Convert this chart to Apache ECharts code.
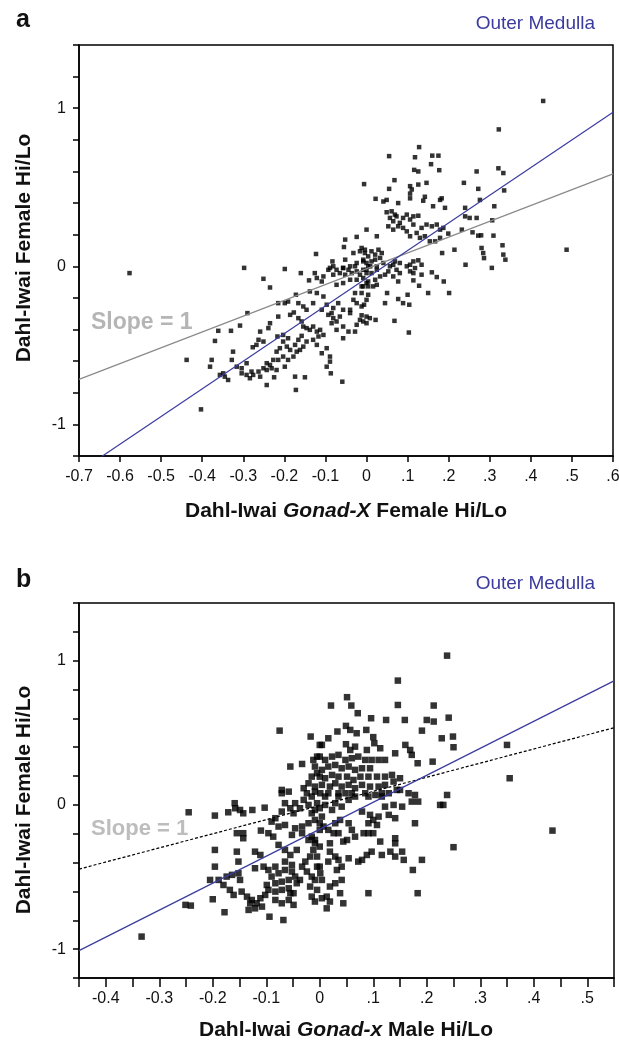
<!DOCTYPE html>
<html>
<head>
<meta charset="utf-8">
<script src="https://cdn.jsdelivr.net/npm/echarts@6/dist/echarts.min.js"></script>
<style>
html,body{margin:0;padding:0;background:#fff;}
#chart{width:619px;height:1044px;}
</style>
</head>
<body>
<div id="chart"></div>
<script>
// ---------- Panel a: Gonad-X Female (x) vs Female (y) ----------
var pointsA = [
[0.430,1.046],[0.322,0.866],[0.128,0.754],[0.055,0.697],[0.118,0.69],[0.16,0.70],[0.175,0.70],[0.157,0.646],[0.116,0.61],[0.126,0.60],[0.177,0.608],[0.268,0.60],[0.321,0.62],[0.333,0.59],[-0.006,0.52],[0.068,0.545],[0.055,0.49],[0.106,0.507],[0.11,0.486],[0.126,0.517],[0.146,0.528],[0.237,0.528],[0.272,0.49],[0.335,0.48],[0.022,0.427],[0.041,0.41],[0.049,0.42],[0.077,0.40],[0.106,0.46],[0.106,0.43],[0.142,0.44],[0.138,0.415],[0.179,0.42],[0.183,0.43],[0.162,0.38],[0.191,0.37],[0.276,0.42],[0.311,0.38],[0.24,0.37],
[0.049,0.342],[0.061,0.348],[0.069,0.327],[0.057,0.306],[0.065,0.285],[0.073,0.316],[0.081,0.275],[0.089,0.306],[0.098,0.327],[0.106,0.296],[0.114,0.316],[0.126,0.32],[0.053,0.253],[0.065,0.232],[0.077,0.253],[0.089,0.243],[0.098,0.221],[0.106,0.19],[0.114,0.264],[0.122,0.211],[0.134,0.243],[0.146,0.264],[0.159,0.253],[0.171,0.264],[0.179,0.232],[0.187,0.243],[0.199,0.207],[0.13,0.18],[0.142,0.19],[0.154,0.158],[0.167,0.158],[0.179,0.18],
[0.0,0.232],[0.025,0.19],[0.232,0.232],[0.258,0.215],[0.272,0.194],[0.279,0.196],[0.306,0.291],[0.309,0.194],[0.24,0.316],[0.251,0.306],[0.268,0.306],[0.331,0.133],[0.333,0.074],[0.338,0.042],[0.28,0.116],[0.284,0.084],[0.286,0.052],[0.214,0.105],[0.184,0.084],[0.487,0.105],[0.241,0.01],[0.305,-0.01],[0.114,0.031],[0.126,0.038],[0.134,0.01],[0.106,0.01],[0.081,0.021],[0.065,0.01],[0.069,0.031],
[-0.012,0.116],[-0.004,0.084],[0.004,0.063],[0.012,0.095],[0.021,0.074],[0.029,0.105],[0.037,0.084],[-0.008,0.042],[0.0,0.021],[0.012,0.031],[0.021,0.042],[0.033,0.053],[0.041,0.021],[0.009,0.0],[0.025,0.0],
[-0.052,0.169],[-0.024,0.186],[-0.055,0.122],[-0.123,0.078],[-0.083,0.031],[-0.052,0.042],[-0.032,0.084],[-0.016,0.095],[-0.004,0.105],[-0.024,0.021],[-0.008,0.031],[-0.04,0],[-0.057,-0.01],[-0.089,-0.01],[-0.298,-0.01],[-0.199,-0.017],
[-0.251,-0.079],[-0.235,-0.134],[-0.16,-0.043],[-0.14,-0.089],[-0.126,-0.043],[-0.121,-0.074],[-0.109,-0.096],[-0.105,-0.064],[-0.093,-0.022],[-0.081,0.0],[-0.081,-0.053],[-0.073,-0.022],[-0.065,-0.043],[-0.057,-0.011],[-0.052,-0.053],[-0.044,-0.022],[-0.036,-0.043],[-0.028,0.0],[-0.024,-0.032],[-0.016,-0.053],[-0.008,-0.022],[0.0,-0.043],[0.004,0.0],[-0.073,-0.117],[-0.057,-0.106],[-0.04,-0.085],[-0.024,-0.085],[-0.012,-0.127],[0.0,-0.106],[-0.138,-0.159],[-0.121,-0.169],[-0.105,-0.191],[-0.172,-0.18],[-0.166,-0.233],[-0.13,-0.233],[-0.146,-0.275],[-0.154,-0.254],[-0.109,-0.275],[-0.097,-0.243],[-0.093,-0.307],[-0.081,-0.264],[-0.069,-0.233],[-0.057,-0.275],[-0.04,-0.275],[-0.032,-0.212],[-0.024,-0.233],[-0.012,-0.254],[0.0,-0.212],[-0.012,-0.169],[-0.028,-0.169],
[-0.215,-0.233],[-0.199,-0.233],[-0.191,-0.223],[-0.177,-0.292],[-0.186,-0.307],[-0.166,-0.328],[-0.158,-0.349],[-0.215,-0.318],[-0.29,-0.296],[-0.308,-0.375],[-0.235,-0.36],[-0.239,-0.391],[-0.361,-0.408],[-0.33,-0.408],[-0.369,-0.472],[-0.259,-0.413],[-0.263,-0.465],[-0.251,-0.476],[-0.268,-0.497],[-0.277,-0.512],
[-0.217,-0.444],[-0.203,-0.434],[-0.191,-0.455],[-0.203,-0.476],[-0.211,-0.518],[-0.194,-0.508],[-0.186,-0.529],[-0.174,-0.497],[-0.166,-0.465],[-0.158,-0.44],[-0.154,-0.381],[-0.146,-0.391],[-0.138,-0.402],[-0.13,-0.381],[-0.121,-0.413],[-0.113,-0.402],[-0.105,-0.434],[-0.117,-0.444],[-0.13,-0.465],[-0.146,-0.476],[-0.154,-0.508],[-0.162,-0.529],[-0.17,-0.54],[-0.178,-0.571],[-0.191,-0.592],[-0.203,-0.571],[-0.219,-0.54],[-0.215,-0.592],[-0.199,-0.635],[-0.227,-0.592],[-0.235,-0.624],[-0.243,-0.613],[-0.251,-0.645],[-0.263,-0.666],[-0.276,-0.687],[-0.284,-0.708],[-0.259,-0.698],[-0.243,-0.656],[-0.231,-0.645],[-0.219,-0.656],
[-0.316,-0.635],[-0.304,-0.645],[-0.292,-0.613],[-0.328,-0.592],[-0.349,-0.677],[-0.357,-0.687],[-0.345,-0.698],[-0.337,-0.719],[-0.377,-0.592],[-0.381,-0.635],[-0.438,-0.592],[-0.304,-0.677],[-0.292,-0.687],[-0.28,-0.666],[-0.243,-0.751],[-0.225,-0.702],[-0.172,-0.782],[-0.15,-0.702],[-0.174,-0.698],[-0.403,-0.905],[-0.089,-0.603],[-0.097,-0.635],[-0.087,-0.677],[-0.059,-0.73],[-0.121,-0.497],[-0.109,-0.55],[-0.097,-0.518],[-0.089,-0.571],
[-0.085,-0.296],[-0.081,-0.328],[-0.085,-0.36],[-0.073,-0.349],[-0.065,-0.318],[-0.057,-0.381],[-0.044,-0.413],[-0.028,-0.413],[-0.024,-0.37],[-0.016,-0.339],[-0.008,-0.349],[0.0,-0.318],[-0.04,-0.296],[-0.073,-0.402],[-0.057,-0.455],
[-0.008,-0.127],[0.004,-0.18],[-0.006,-0.243],[0.045,-0.233],[0.05,-0.169],[0.077,-0.207],[0.089,-0.233],[0.104,-0.243],[0.1,-0.18],[-0.012,-0.31],[0.0,-0.36],[0.008,-0.328],[0.022,-0.339],[0.068,-0.345],[0.103,-0.419],[0.15,-0.169],[0.201,-0.169],[0.128,-0.123],[0.114,-0.089],[0.134,-0.053],[0.159,-0.038],[0.171,-0.068],[0.188,-0.096],
[0.0,-0.022],[0.012,-0.043],[0.025,-0.022],[0.033,-0.064],[0.021,-0.085],[0.004,-0.096],[-0.008,-0.074],[0.045,-0.053],[0.053,-0.032],[0.065,-0.064],[0.077,-0.096],[0.081,-0.043],[0.073,-0.022],[0.098,0.0],[0.106,-0.032],[0.114,-0.043],[0.118,-0.011],[0.057,0.0],[0.025,-0.117],[0.004,-0.127],[0.016,-0.127],
[-0.577,-0.043],[-0.325,-0.54]
];
// fitted line (blue) and slope = 1 line (grey), endpoints
var blueLineA = [[-0.7, -1.30], [0.6, 0.975]];
var slopeLineA = [[-0.7, -0.715], [0.6, 0.585]];
var xTicksA = [-0.7, 0.6, 0.1];   // min, max, step
var yTicks = [-1.2, 1.4, 0.2];    // min, max, step (labels at -1, 0, 1)

// ---------- Panel b: Gonad-x Male (x) vs Female (y) ----------
var pointsB = [
[-0.075,0.515],[-0.017,0.474],[0.0,0.416],[-0.055,0.266],[-0.033,0.284],[-0.012,0.312],[-0.005,0.335],[-0.015,0.196],[-0.005,0.22],[-0.071,0.104],[-0.058,0.092],[-0.03,0.116],[-0.021,0.15],[-0.009,0.092],
[0.238,1.035],[0.146,0.862],[0.051,0.747],[0.021,0.689],[0.059,0.689],[0.146,0.693],[0.213,0.689],[0.071,0.636],[0.096,0.601],[0.124,0.589],[0.159,0.589],[0.2,0.589],[0.213,0.578],[0.241,0.605],[0.191,0.515],[0.228,0.462],[0.249,0.474],[0.25,0.4],[0.049,0.548],[0.057,0.52],[0.069,0.497],[0.087,0.52],[0.033,0.509],[0.016,0.462],[0.004,0.416],[0.1,0.47],[0.102,0.428],[0.049,0.421],[0.057,0.381],[0.066,0.404],[0.088,0.381],[0.113,0.393],[0.141,0.358],[0.16,0.416],[0.169,0.381],[0.172,0.347],[0.183,0.289],[0.211,0.3],
[0.0,0.335],[0.01,0.312],[0.023,0.335],[0.035,0.347],[0.048,0.312],[0.06,0.324],[0.072,0.335],[0.085,0.312],[0.097,0.312],[0.11,0.312],[0.122,0.312],[-0.009,0.266],[0.004,0.243],[0.016,0.266],[0.029,0.277],[0.041,0.254],[0.054,0.266],[0.066,0.243],[0.079,0.254],[0.094,0.254],[0.0,0.196],[0.01,0.185],[0.023,0.208],[0.035,0.196],[0.051,0.196],[0.063,0.173],[0.076,0.196],[0.091,0.196],[0.107,0.196],[0.122,0.196],[0.135,0.208],[-0.009,0.127],[0.004,0.139],[0.019,0.127],[0.029,0.15],[0.041,0.127],[0.054,0.139],[0.066,0.116],[0.079,0.139],[0.094,0.127],[0.11,0.127],[0.122,0.139],[0.138,0.162],[0.15,0.185],[0.001,0.081],[0.016,0.081],[0.035,0.081],[0.06,0.081],[0.085,0.081],[0.116,0.081],[0.144,0.104],
[-0.245,-0.051],[-0.196,-0.074],[-0.171,-0.051],[-0.159,0.012],[-0.158,-0.023],[-0.149,-0.035],[-0.143,-0.058],[-0.126,-0.035],[-0.103,-0.019],[-0.071,0.081],[-0.065,0.012],[-0.055,-0.023],[-0.071,-0.046],[-0.083,-0.092],[-0.09,-0.116],[-0.077,-0.15],[-0.096,-0.196],[-0.087,-0.22],[-0.065,-0.139],[-0.046,0.012],[-0.049,-0.058],[-0.037,-0.023],[-0.03,0.035],[-0.024,0.081],[-0.021,0.0],[-0.015,-0.058],[-0.009,-0.104],[-0.021,-0.127],[-0.033,-0.15],[-0.046,-0.162],[-0.033,-0.196],[-0.052,-0.208],[-0.155,-0.196],[-0.143,-0.196],[-0.143,-0.231],[-0.11,-0.178],[-0.196,-0.312],[-0.155,-0.324],[-0.152,-0.393],[-0.196,-0.428],[-0.205,-0.52],[-0.189,-0.52],[-0.174,-0.497],[-0.164,-0.485],[-0.152,-0.474],[-0.149,-0.52],
[-0.121,-0.324],[-0.111,-0.347],[-0.121,-0.439],[-0.105,-0.428],[-0.096,-0.451],[-0.083,-0.428],[-0.09,-0.497],[-0.077,-0.474],[-0.065,-0.451],[-0.052,-0.462],[-0.046,-0.497],[-0.058,-0.52],[-0.071,-0.532],[-0.083,-0.543],[-0.099,-0.555],[-0.096,-0.589],[-0.083,-0.601],[-0.071,-0.589],[-0.058,-0.578],[-0.049,-0.612],[-0.043,-0.543],[-0.037,-0.52],[-0.033,-0.428],[-0.027,-0.393],[-0.018,-0.358],[-0.012,-0.312],[-0.009,-0.266],[-0.015,-0.22],[-0.021,-0.243],[-0.043,-0.312],[-0.055,-0.347],[-0.065,-0.312],[-0.077,-0.277],[-0.065,-0.393],[-0.052,-0.416],[-0.024,-0.462],[-0.015,-0.497],[-0.005,-0.428],[-0.009,-0.52],[-0.018,-0.566],
[-0.18,-0.555],[-0.168,-0.589],[-0.161,-0.624],[-0.146,-0.601],[-0.136,-0.636],[-0.127,-0.659],[-0.118,-0.682],[-0.108,-0.705],[-0.121,-0.717],[-0.13,-0.682],[-0.111,-0.647],[-0.102,-0.624],[-0.2,-0.654],[-0.241,-0.698],[-0.178,-0.744],[-0.133,-0.728],[-0.094,-0.775],[-0.068,-0.798],[-0.083,-0.659],[-0.071,-0.682],[-0.058,-0.659],[-0.049,-0.693],[-0.055,-0.612],[-0.015,-0.636],[-0.005,-0.589],[-0.009,-0.67],[-0.015,0.058],[-0.005,0.012],[-0.009,-0.035],[0.0,-0.127],[0.0,-0.173],
[0.238,0.069],[0.225,0.0],[0.231,0.0],[0.178,-0.127],[0.25,-0.293],[0.191,-0.381],[0.174,-0.451],[0.183,-0.612],[0.091,-0.612],[0.15,0.104],[0.166,0.081],[0.178,0.069],[0.184,0.023],[0.172,0.023],[0.122,-0.012],[0.138,0.0],[0.154,-0.012],[0.129,-0.069],[0.141,-0.092],
[0.079,-0.046],[0.094,-0.069],[0.1,-0.104],[0.11,-0.081],[0.091,-0.127],[0.107,-0.139],[0.082,-0.196],[0.091,-0.196],[0.1,-0.196],[0.113,-0.254],[0.141,-0.231],[0.141,-0.266],[0.132,-0.324],[0.154,-0.324],[0.141,-0.358],[0.157,-0.381],[0.116,-0.347],[0.097,-0.324],[0.088,-0.347],[0.079,-0.381],[0.072,-0.393],[0.054,-0.37],[0.06,-0.173],[0.066,-0.22],[0.051,-0.243],[0.044,-0.254],[0.035,-0.196],[0.026,-0.196],[0.029,-0.127],[0.038,-0.104],[0.054,-0.127],[0.019,-0.266],[0.019,-0.324],[0.016,-0.393],[0.029,-0.358],[0.035,-0.381],[0.041,-0.428],[0.032,-0.451],[0.041,-0.52],[0.029,-0.543],[0.019,-0.566],[0.013,-0.636],[0.019,-0.67],[0.004,-0.647],[0.013,-0.717],[0.038,-0.612],[0.044,-0.682],[0.004,-0.52],[0.001,-0.474],[0.0,-0.428],[-0.005,-0.358],[0.0,-0.289],[-0.009,-0.243],[0.007,-0.15],[0.016,-0.173],[0.004,-0.081],[0.023,-0.035],[0.041,-0.012],[0.054,0.035],[0.066,0.058],
[0.01,0.058],[0.035,0.058],[0.048,0.081],[0.029,0.012],[0.01,0.0],[0.0,-0.023],[0.091,0.058],[0.104,0.069],[0.116,0.058],[0.129,0.081],
[0.35,0.416],[0.355,0.185],[0.435,-0.178],[-0.333,-0.913],[-0.251,-0.693]
];
var blueLineB = [[-0.45, -1.01], [0.55, 0.86]];
var slopeLineB = [[-0.45, -0.445], [0.55, 0.535]];
var xTicksB = [-0.45, 0.55, 0.05];

// ---------- texts ----------
var panelLetters = ['a', 'b'];
var regionLabel = 'Outer Medulla';
var yTitle = 'Dahl-Iwai Female Hi/Lo';
var xTitleA = ['Dahl-Iwai ', 'Gonad-X', ' Female Hi/Lo'];
var xTitleB = ['Dahl-Iwai ', 'Gonad-x', ' Male Hi/Lo'];
var slopeText = 'Slope = 1';

var FONT = "'Liberation Sans', Arial, Helvetica, sans-serif";
var BLUE = '#3b3b9f';

function xFmt(v) {
  var r = Math.round(v * 100) / 100;
  if (Math.abs(r * 10 - Math.round(r * 10)) > 1e-6) return '';
  if (Math.abs(r) < 1e-9) return '0';
  var s = r.toFixed(1);
  if (r > 0) s = s.replace(/^0/, '');
  return s;
}
function yFmt(v) {
  if (Math.abs(v - Math.round(v)) < 1e-6) { var n = Math.round(v); return n === 0 ? '0' : String(n); }
  return '';
}
function xAxisCfg(gi, t, tickLen, margin) {
  return {
    type: 'value', gridIndex: gi, min: t[0], max: t[1], interval: t[2],
    axisLine: { show: true, onZero: false, lineStyle: { color: '#000', width: 1.5 } },
    axisTick: { show: true, length: tickLen, lineStyle: { color: '#000', width: 1.5 } },
    axisLabel: { formatter: xFmt, interval: 0, showMinLabel: true, showMaxLabel: true, hideOverlap: false,
      fontSize: 16, fontFamily: FONT, color: '#111', margin: margin },
    splitLine: { show: false }
  };
}
function yAxisCfg(gi) {
  return {
    type: 'value', gridIndex: gi, min: yTicks[0], max: yTicks[1], interval: yTicks[2],
    axisLine: { show: true, onZero: false, lineStyle: { color: '#000', width: 1.5 } },
    axisTick: { show: true, length: 6, lineStyle: { color: '#000', width: 1.5 } },
    axisLabel: { formatter: yFmt, showMinLabel: true, showMaxLabel: true, hideOverlap: false,
      fontSize: 16, fontFamily: FONT, color: '#111', margin: 13 },
    splitLine: { show: false }
  };
}
function scatter(i, data, size) {
  return { type: 'scatter', xAxisIndex: i, yAxisIndex: i, data: data, symbol: 'rect', symbolSize: size,
    itemStyle: { color: '#000' }, silent: true, z: 2 };
}
function line(i, data, color, type) {
  return { type: 'line', xAxisIndex: i, yAxisIndex: i, data: data, showSymbol: false, symbol: 'none',
    clip: true, silent: true, z: 3, lineStyle: { color: color, width: 1.2, type: type || 'solid' } };
}
function txt(x, y, text, font, fill, align, rot) {
  return { type: 'text', x: x, y: y, rotation: rot || 0, silent: true,
    style: { text: text, font: font, fill: fill, align: align || 'center', verticalAlign: 'middle' } };
}
function richTitle(x, y, parts) {
  return { type: 'text', x: x, y: y, silent: true,
    style: { text: '{b|' + parts[0] + '}{i|' + parts[1] + '}{b|' + parts[2] + '}',
      align: 'center', verticalAlign: 'middle',
      rich: { b: { font: 'bold 21px ' + FONT, fill: '#111' }, i: { font: 'italic bold 21px ' + FONT, fill: '#111' } } } };
}

var chart = echarts.init(document.getElementById('chart'), null, { renderer: 'canvas' });
chart.setOption({
  backgroundColor: '#fff',
  animation: false,
  grid: [
    { left: 79, top: 45, width: 534, height: 411, containLabel: false, outerBoundsMode: 'none',
      show: true, borderColor: '#000', borderWidth: 1.5, backgroundColor: 'transparent' },
    { left: 79, top: 603, width: 535, height: 375, containLabel: false, outerBoundsMode: 'none',
      show: true, borderColor: '#000', borderWidth: 1.5, backgroundColor: 'transparent' }
  ],
  xAxis: [xAxisCfg(0, xTicksA, 6, 13), xAxisCfg(1, xTicksB, 9, 13)],
  yAxis: [yAxisCfg(0), yAxisCfg(1)],
  series: [
    scatter(0, pointsA, 4.5),
    line(0, slopeLineA, '#8a8a8a'),
    line(0, blueLineA, BLUE),
    scatter(1, pointsB, 6.5),
    line(1, slopeLineB, '#000', [3, 2]),
    line(1, blueLineB, BLUE)
  ],
  graphic: [
    txt(16, 20, panelLetters[0], 'bold 25px ' + FONT, '#111', 'left'),
    txt(16, 580, panelLetters[1], 'bold 25px ' + FONT, '#111', 'left'),
    txt(595, 24, regionLabel, '19px ' + FONT, BLUE, 'right'),
    txt(595, 584, regionLabel, '19px ' + FONT, BLUE, 'right'),
    txt(24, 248, yTitle, 'bold 21px ' + FONT, '#111', 'center', Math.PI / 2),
    txt(24, 800, yTitle, 'bold 21px ' + FONT, '#111', 'center', Math.PI / 2),
    richTitle(346, 511, xTitleA),
    richTitle(346, 1030, xTitleB),
    txt(91, 323, slopeText, 'bold 23px ' + FONT, '#b5b5b5', 'left'),
    txt(91, 829, slopeText, 'bold 22px ' + FONT, '#bdbdbd', 'left')
  ]
});
</script>
</body>
</html>
